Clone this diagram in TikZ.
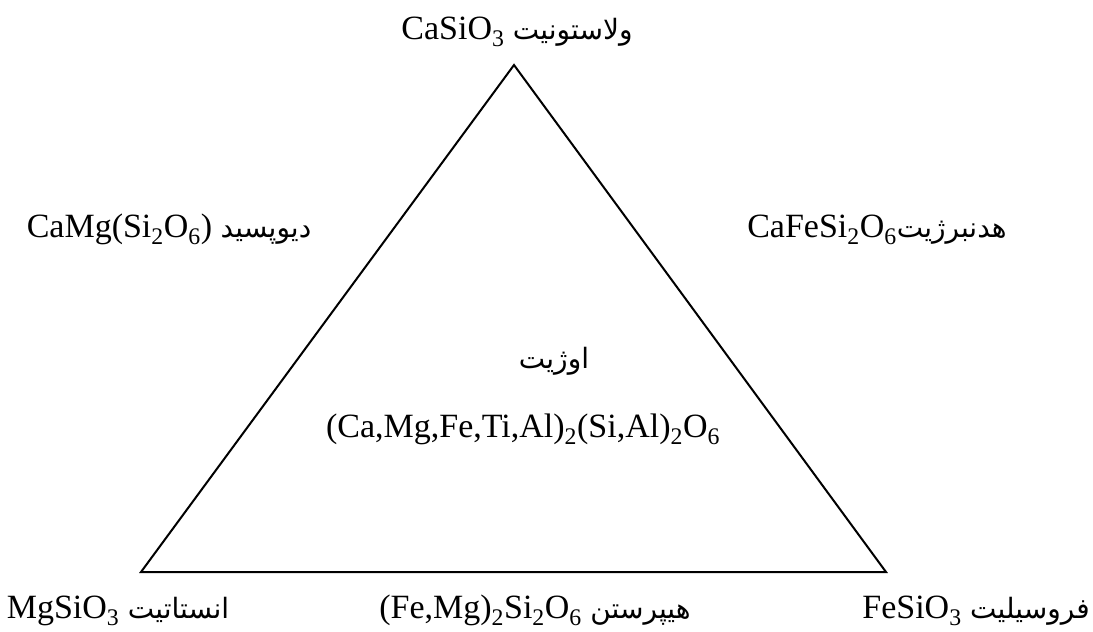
\documentclass[tikz,border=0pt]{standalone}
\usepackage{fontspec}
\usepackage{tikz}
\usetikzlibrary{positioning, calc}
\setmainfont{Liberation Serif}
\newfontfamily\persianfont[Script=Arabic]{DejaVu Sans}
\TeXXeTstate=1
\newcommand{\fa}[1]{{\persianfont\fontsize{28}{32}\selectfont\beginR #1\endR}}
\newcommand{\sub}[1]{\textsubscript{#1}}

\begin{document}
\begin{tikzpicture}[
    x=1pt, y=-1pt,
    lbl/.style={anchor=base, inner sep=0pt, font=\fontsize{34}{40}\selectfont},
    edge/.style={line width=2pt, line join=miter},
  ]
  \useasboundingbox (0,0) rectangle (1093,632);

  % Corners of the triangle
  \coordinate (wol) at (514,65);
  \coordinate (ens) at (141,572);
  \coordinate (fer) at (886,572);
  \draw[edge] (wol) -- (ens) -- (fer) -- cycle;

  % End members
  \node[lbl] (wlab) at (517,39)  {CaSiO\sub{3} \fa{ولاستونیت}};
  \node[lbl] (elab) at (118,618) {MgSiO\sub{3} \fa{انستاتیت}};
  \node[lbl] (flab) at (976,618) {FeSiO\sub{3} \fa{فروسیلیت}};

  % Intermediate members
  \node[lbl] (dlab) at (169,237) {CaMg(Si\sub{2}O\sub{6}) \fa{دیوپسید}};
  \node[lbl] (hlab) at (877,237) {CaFeSi\sub{2}O\sub{6}\fa{هدنبرژیت}};
  \node[lbl] (plab) at (535,618) {(Fe,Mg)\sub{2}Si\sub{2}O\sub{6} \fa{هیپرستن}};

  % Augite field
  \node[lbl] (aug)  at (554,368) {\fa{اوژیت}};
  \node[lbl] (augf) at (523,437)
    {(Ca,Mg,Fe,Ti,Al)\sub{2}(Si,Al)\sub{2}O\sub{6}};
\end{tikzpicture}
\end{document}
